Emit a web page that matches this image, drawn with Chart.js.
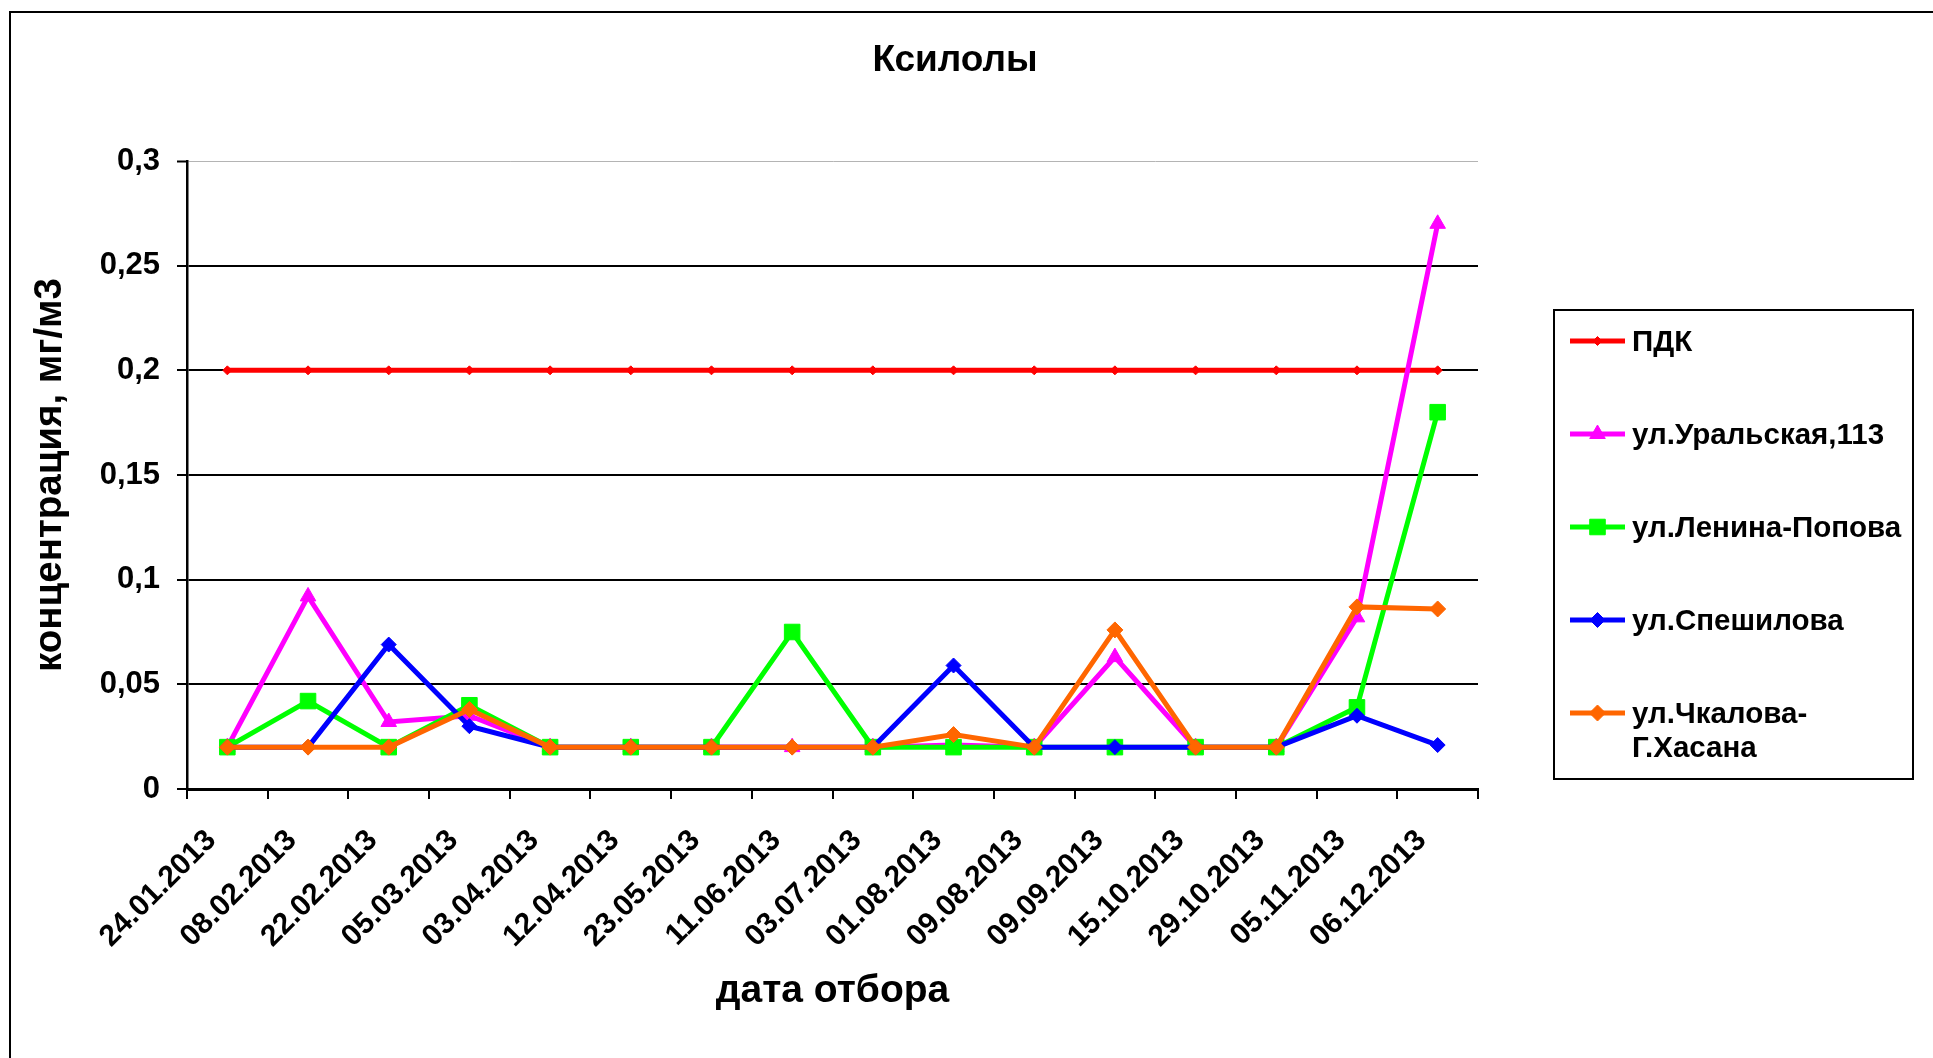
<!DOCTYPE html>
<html><head><meta charset="utf-8">
<script src="https://cdn.jsdelivr.net/npm/chart.js@4.4.1/dist/chart.umd.min.js"></script>
<style>html,body{margin:0;padding:0;background:#fff;overflow:hidden}</style>
</head><body>
<canvas id="c" width="1933" height="1058" style="display:block;width:1933px;height:1058px"></canvas>
<script>
// ---- data ----
const categories = ['24.01.2013','08.02.2013','22.02.2013','05.03.2013','03.04.2013','12.04.2013','23.05.2013','11.06.2013','03.07.2013','01.08.2013','09.08.2013','09.09.2013','15.10.2013','29.10.2013','05.11.2013','06.12.2013'];
const seriesNames = ['ПДК','ул.Уральская,113','ул.Ленина-Попова','ул.Спешилова','ул.Чкалова-\nГ.Хасана'];
const pdk        = [0.2,0.2,0.2,0.2,0.2,0.2,0.2,0.2,0.2,0.2,0.2,0.2,0.2,0.2,0.2,0.2];
const uralskaya  = [0.02,0.092,0.032,0.035,0.02,0.02,0.02,0.02,0.02,0.021,0.02,0.063,0.02,0.02,0.082,0.27];
const leninaPopova = [0.02,0.042,0.02,0.04,0.02,0.02,0.02,0.075,0.02,0.02,0.02,0.02,0.02,0.02,0.039,0.18];
const speshilova = [0.02,0.02,0.069,0.03,0.02,0.02,0.02,0.02,0.02,0.059,0.02,0.02,0.02,0.02,0.035,0.021];
const chkalova   = [0.02,0.02,0.02,0.038,0.02,0.02,0.02,0.02,0.02,0.026,0.02,0.076,0.02,0.02,0.087,0.086];
const yTickLabels = ['0','0,05','0,1','0,15','0,2','0,25','0,3'];
const chartTitle = 'Ксилолы';
const xTitle = 'дата отбора';
const yTitle = 'концентрация, мг/м3';

const FONT = '"Liberation Sans", Arial, sans-serif';
const colors = ['#FF0000','#FF00FF','#00FF00','#0000FF','#FF6600'];
const styles = ['rectRot','triangle','rect','rectRot','rectRot'];
const radii = [4.5, 9, 11, 7.5, 8];
const values = [pdk, uralskaya, leninaPopova, speshilova, chkalova];

const datasets = values.map((v, i) => ({
  label: seriesNames[i],
  data: v,
  borderColor: colors[i],
  backgroundColor: colors[i],
  pointBackgroundColor: colors[i],
  pointBorderColor: colors[i],
  pointStyle: styles[i],
  pointRadius: radii[i],
  pointBorderWidth: 1,
  borderWidth: 5,
  tension: 0,
  order: 4 - i
}));

function drawMarker(ctx, style, r, x, y, color) {
  ctx.save();
  ctx.fillStyle = color; ctx.strokeStyle = color; ctx.lineWidth = 1;
  ctx.beginPath();
  if (style === 'rect') {
    const s = r * Math.SQRT1_2;
    ctx.rect(x - s, y - s, 2 * s, 2 * s);
  } else if (style === 'triangle') {
    ctx.moveTo(x, y - r);
    ctx.lineTo(x + r * Math.sin(2 * Math.PI / 3), y - r * Math.cos(2 * Math.PI / 3));
    ctx.lineTo(x + r * Math.sin(4 * Math.PI / 3), y - r * Math.cos(4 * Math.PI / 3));
    ctx.closePath();
  } else {
    ctx.moveTo(x, y - r); ctx.lineTo(x + r, y); ctx.lineTo(x, y + r); ctx.lineTo(x - r, y); ctx.closePath();
  }
  ctx.fill(); ctx.stroke();
  ctx.restore();
}

const decor = {
  id: 'decor',
  afterDraw(chart) {
    const ctx = chart.ctx;
    ctx.save();
    // outer frame
    ctx.strokeStyle = '#000'; ctx.lineWidth = 2;
    ctx.strokeRect(10, 12, 2000, 1100);
    // title
    ctx.fillStyle = '#000';
    ctx.font = 'bold 37px ' + FONT;
    ctx.textAlign = 'center'; ctx.textBaseline = 'middle';
    ctx.fillText(chartTitle, 955, 61);
    // legend
    ctx.lineWidth = 2; ctx.strokeStyle = '#000';
    ctx.strokeRect(1554, 310, 359, 469);
    ctx.font = 'bold 29.5px ' + FONT;
    ctx.textAlign = 'left';
    chart.data.datasets.forEach((ds, i) => {
      const y = 341 + 93 * i;
      ctx.strokeStyle = ds.borderColor; ctx.lineWidth = 5;
      ctx.beginPath(); ctx.moveTo(1570, y); ctx.lineTo(1625, y); ctx.stroke();
      drawMarker(ctx, ds.pointStyle, ds.pointRadius, 1597.5, y, ds.borderColor);
      ctx.fillStyle = '#000';
      ds.label.split('\n').forEach((line, k) => ctx.fillText(line, 1632, y + 2 + k * 34));
    });
    ctx.restore();
  }
};

new Chart(document.getElementById('c'), {
  type: 'line',
  data: { labels: categories, datasets },
  plugins: [decor],
  options: {
    responsive: false,
    animation: false,
    devicePixelRatio: 1,
    layout: { padding: { left: 10, right: 455, top: 161, bottom: 30 } },
    plugins: { legend: { display: false }, title: { display: false }, tooltip: { enabled: false } },
    scales: {
      x: {
        type: 'category',
        offset: true,
        grid: { display: true, offset: true, drawOnChartArea: false, drawTicks: true, tickLength: 10, color: '#000', lineWidth: 2 },
        border: { display: true, color: '#000', width: 3 },
        ticks: { autoSkip: false, minRotation: 45, maxRotation: 45, padding: 24, labelOffset: -16, color: '#000', font: { family: FONT, size: 30, weight: 'bold' } },
        title: { display: true, text: xTitle, color: '#000', padding: { top: 0, bottom: 13 }, font: { family: FONT, size: 39, weight: 'bold' } },
        afterFit(scale) { scale.height = 239; }
      },
      y: {
        min: 0, max: 0.3,
        ticks: { stepSize: 0.05, padding: 17, color: '#000', font: { family: FONT, size: 31, weight: 'bold' },
          callback: (v, i) => yTickLabels[i] },
        grid: {
          color: (c) => (c.tick && c.tick.value > 0.29) ? '#b4b4b4' : '#000',
          lineWidth: (c) => (c.tick && c.tick.value > 0.29) ? 1 : 2,
          tickColor: '#000', tickWidth: 2, tickLength: 10, drawTicks: true
        },
        border: { display: true, color: '#000', width: 2.5 },
        title: { display: true, text: yTitle, color: '#000', padding: { top: 17, bottom: 0 }, font: { family: FONT, size: 38.5, weight: 'bold' } },
        afterFit(scale) { scale.width = 177; }
      }
    }
  }
});
</script>
</body></html>
